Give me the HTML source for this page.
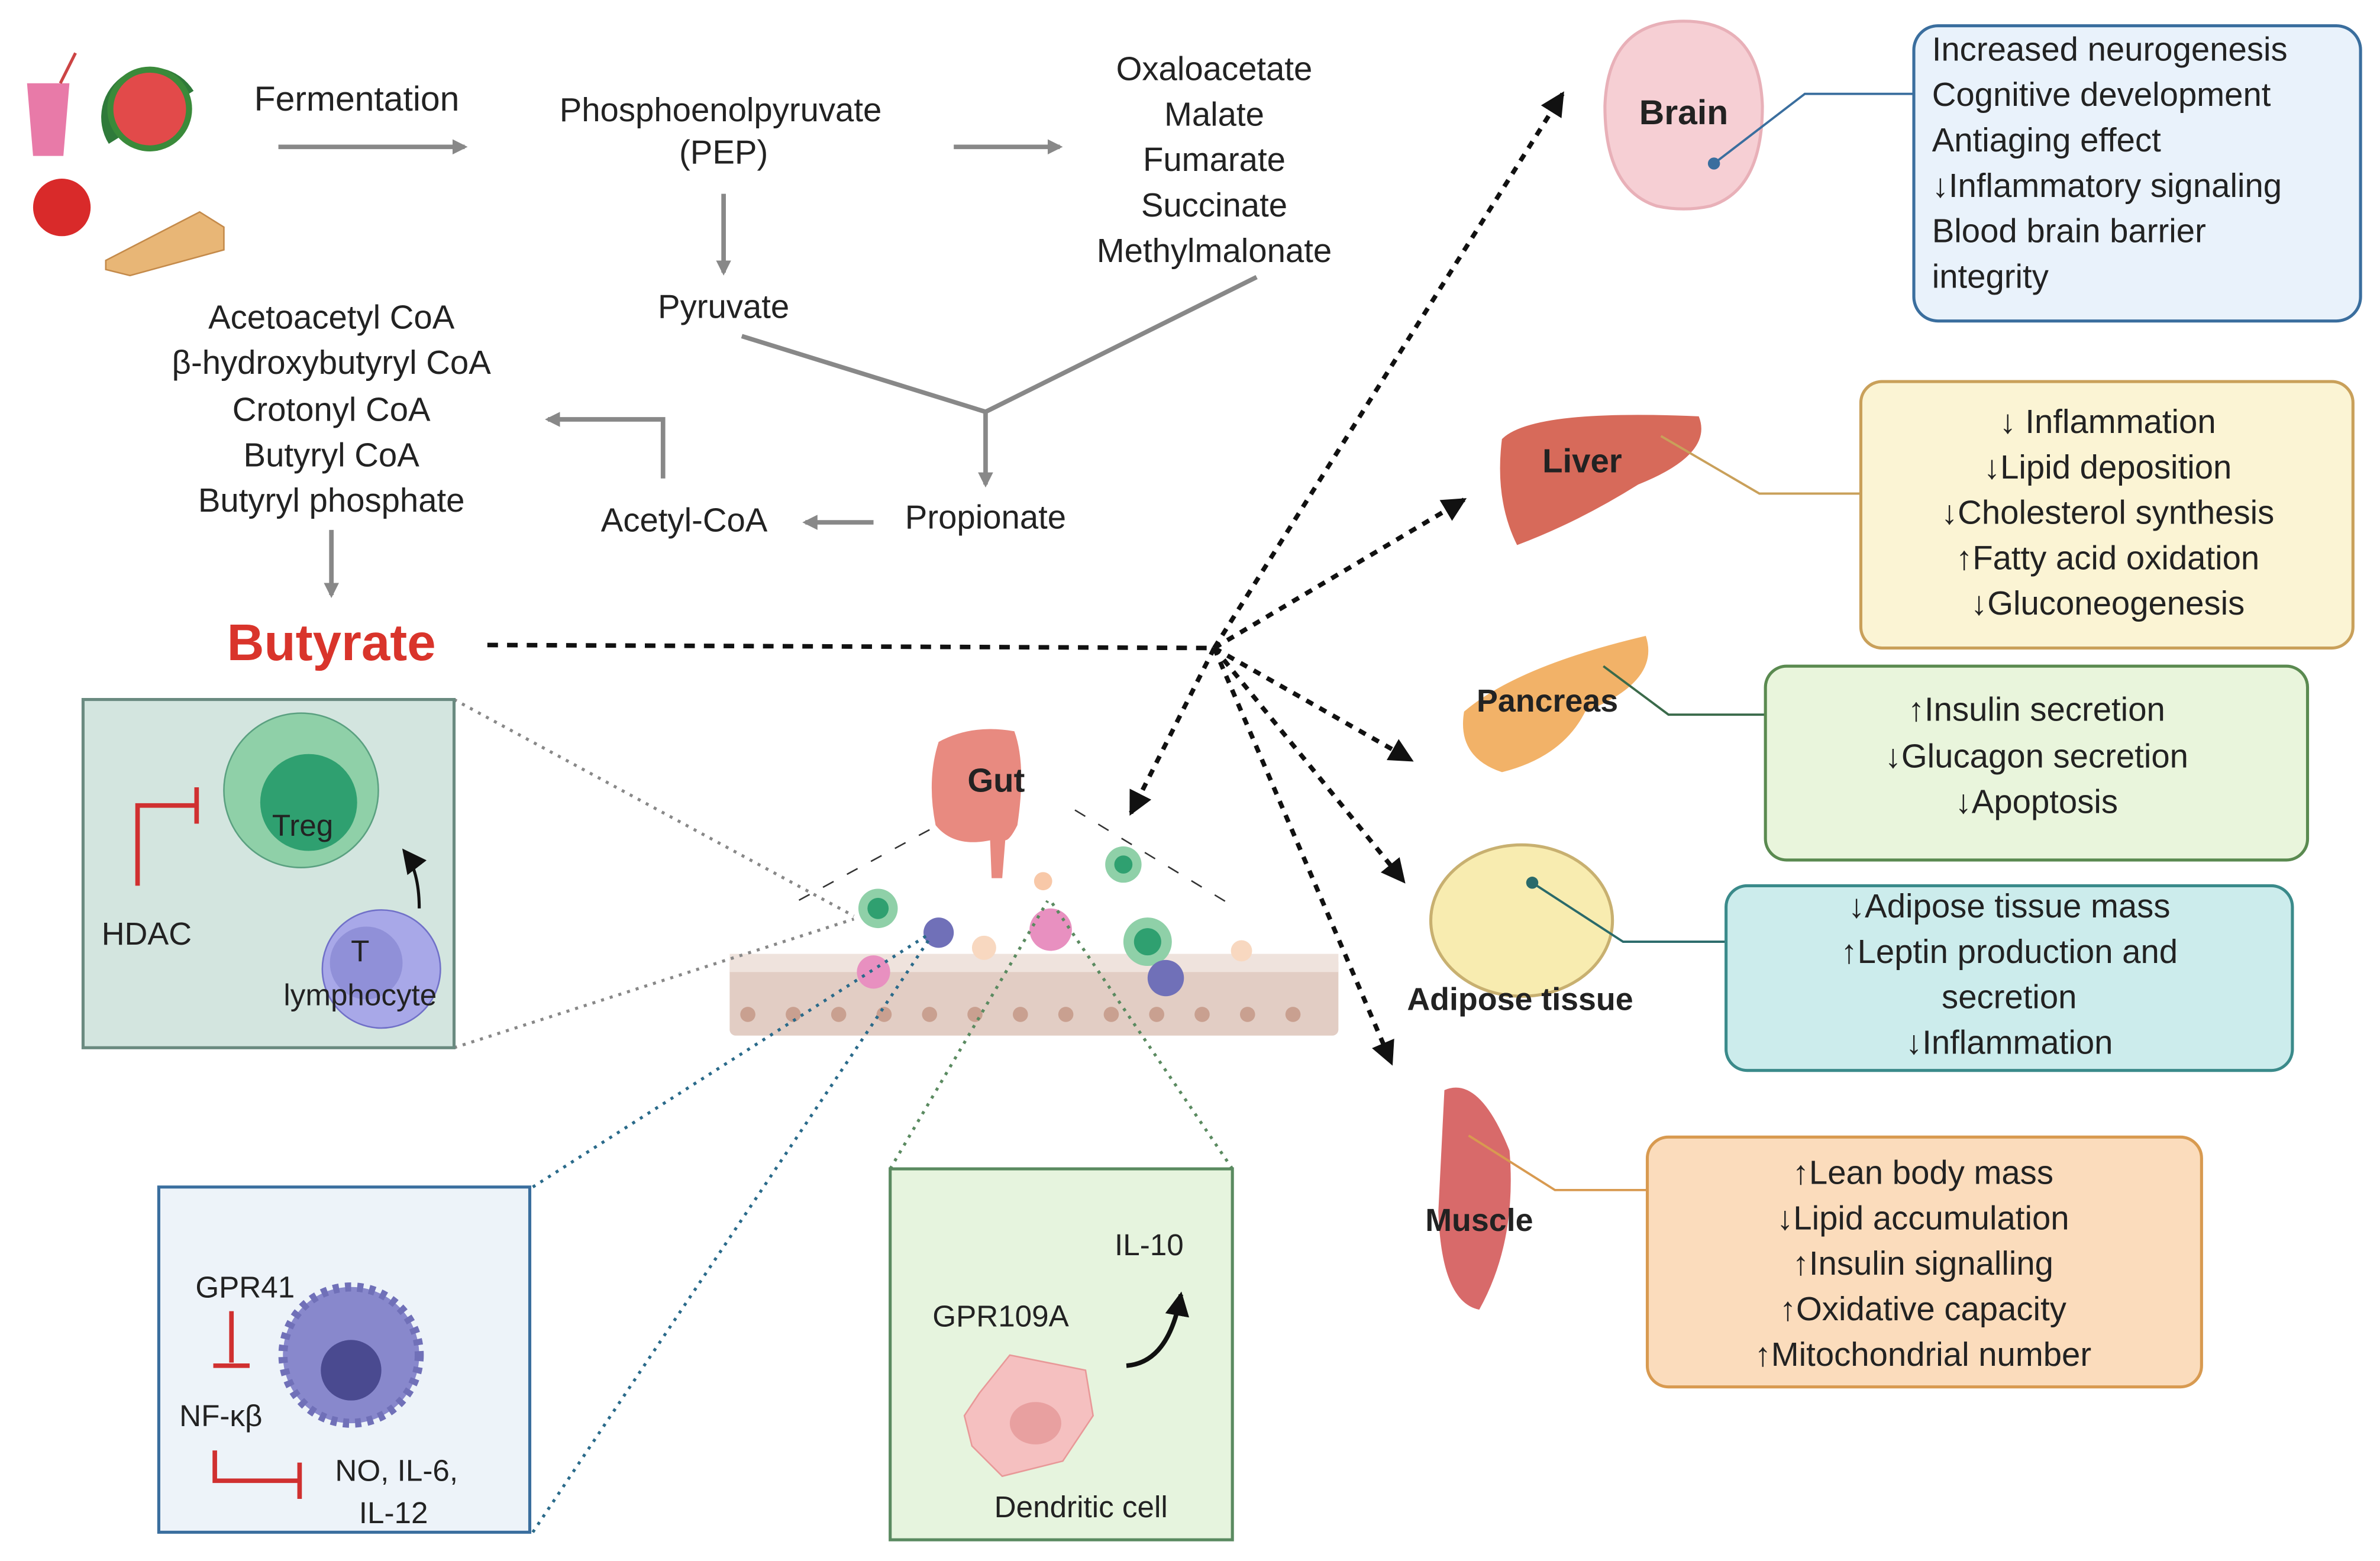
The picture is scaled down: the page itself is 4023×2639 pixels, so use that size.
<!DOCTYPE html>
<html><head><meta charset="utf-8"><style>
html,body{margin:0;padding:0;background:#fff;width:4023px;height:2639px;overflow:hidden}
svg{display:block}
text{font-family:"Liberation Sans",sans-serif;fill:#222}
</style></head><body>
<svg width="4023" height="2639" viewBox="0 0 1568 1031" xmlns="http://www.w3.org/2000/svg">
<defs>
<marker id="ag" markerWidth="10" markerHeight="10" refX="8" refY="5" orient="auto" markerUnits="userSpaceOnUse"><path d="M0,0 L10,5 L0,10 z" fill="#888"/></marker>
<marker id="ab" markerWidth="16" markerHeight="16" refX="14" refY="8" orient="auto" markerUnits="userSpaceOnUse"><path d="M0,0 L16,8 L0,16 z" fill="#111"/></marker>
</defs>
<!-- food icons -->
<path d="M16 55 L44 55 L40 103 L20 103 z" fill="#e87aa8"/><line x1="38" y1="55" x2="48" y2="35" stroke="#c44" stroke-width="2"/>
<path d="M70 95 A30 30 0 0 1 126 60 z" fill="#2f7a3a"/><circle cx="97" cy="72" r="26" fill="#e24a4a"/><circle cx="97" cy="72" r="26" fill="none" stroke="#3a8a3a" stroke-width="4"/>
<circle cx="39" cy="137" r="19" fill="#d92a2a"/>
<path d="M68 172 L130 140 L146 150 L146 165 L84 182 L68 178 z" fill="#e8b676" stroke="#c48a4a"/>
<text x="166" y="73" font-size="23">Fermentation</text>
<line x1="182" y1="97" x2="305" y2="97" stroke="#888" stroke-width="3" marker-end="url(#ag)"/>
<g font-size="22" text-anchor="middle">
<text x="474" y="80">Phosphoenolpyruvate</text><text x="476" y="108">(PEP)</text>
<text x="800" y="53">Oxaloacetate</text><text x="800" y="83">Malate</text><text x="800" y="113">Fumarate</text><text x="800" y="143">Succinate</text><text x="800" y="173">Methylmalonate</text>
<text x="476" y="210">Pyruvate</text>
<text x="217" y="217">Acetoacetyl CoA</text><text x="217" y="247">β-hydroxybutyryl CoA</text><text x="217" y="278">Crotonyl CoA</text><text x="217" y="308">Butyryl CoA</text><text x="217" y="338">Butyryl phosphate</text>
<text x="450" y="351">Acetyl-CoA</text><text x="649" y="349">Propionate</text>
</g>
<g stroke="#888" stroke-width="3" fill="none">
<line x1="628" y1="97" x2="698" y2="97" marker-end="url(#ag)"/>
<line x1="476" y1="128" x2="476" y2="180" marker-end="url(#ag)"/>
<polyline points="488,222 649,272 828,183"/>
<line x1="649" y1="272" x2="649" y2="320" marker-end="url(#ag)"/>
<line x1="575" y1="345" x2="530" y2="345" marker-end="url(#ag)"/>
<polyline points="436,316 436,277 360,277" marker-end="url(#ag)"/>
<line x1="217" y1="350" x2="217" y2="393" marker-end="url(#ag)"/>
</g>
<text x="217" y="436" font-size="34" font-weight="bold" text-anchor="middle" style="fill:#d9342b">Butyrate</text>
<line x1="320" y1="426" x2="800" y2="428" stroke="#111" stroke-width="3" stroke-dasharray="7,6"/>
<g stroke="#111" stroke-width="3" stroke-dasharray="5,5" fill="none">
<line x1="800" y1="428" x2="1030" y2="62" marker-end="url(#ab)"/>
<line x1="800" y1="428" x2="965" y2="330" marker-end="url(#ab)"/>
<line x1="800" y1="428" x2="930" y2="502" marker-end="url(#ab)"/>
<line x1="800" y1="428" x2="925" y2="582" marker-end="url(#ab)"/>
<line x1="800" y1="428" x2="917" y2="702" marker-end="url(#ab)"/>
<line x1="800" y1="428" x2="745" y2="537" marker-end="url(#ab)"/>
</g>
<!-- gut scene -->
<rect x="480" y="632" width="402" height="52" rx="4" fill="#e2cdc4"/>
<rect x="480" y="630" width="402" height="12" fill="#efe3dd"/>
<g fill="#c9a090"><circle cx="492" cy="670" r="5"/><circle cx="522" cy="670" r="5"/><circle cx="552" cy="670" r="5"/><circle cx="582" cy="670" r="5"/><circle cx="612" cy="670" r="5"/><circle cx="642" cy="670" r="5"/><circle cx="672" cy="670" r="5"/><circle cx="702" cy="670" r="5"/><circle cx="732" cy="670" r="5"/><circle cx="762" cy="670" r="5"/><circle cx="792" cy="670" r="5"/><circle cx="822" cy="670" r="5"/><circle cx="852" cy="670" r="5"/></g>
<path d="M618 490 Q640 478 668 483 Q676 505 670 545 Q665 555 662 555 L660 580 L653 580 L652 555 Q628 560 616 545 Q610 515 618 490z" fill="#e88a80"/>
<text x="656" y="523" font-size="22" font-weight="bold" text-anchor="middle">Gut</text>
<g stroke="#333" stroke-width="1" stroke-dasharray="8,10"><line x1="612" y1="548" x2="525" y2="595"/><line x1="708" y1="535" x2="815" y2="600"/></g>
<circle cx="578" cy="600" r="13" fill="#8fd0a8"/><circle cx="578" cy="600" r="7" fill="#2fa070"/>
<circle cx="740" cy="571" r="12" fill="#8fd0a8"/><circle cx="740" cy="571" r="6" fill="#2fa070"/>
<circle cx="756" cy="622" r="16" fill="#8fd0a8"/><circle cx="756" cy="622" r="9" fill="#2fa070"/>
<circle cx="618" cy="616" r="10" fill="#7070b8"/><circle cx="768" cy="646" r="12" fill="#7070b8"/>
<circle cx="692" cy="614" r="14" fill="#e890c0"/><circle cx="575" cy="642" r="11" fill="#e890c0"/>
<circle cx="687" cy="582" r="6" fill="#f8c8a8"/><circle cx="648" cy="626" r="8" fill="#f8d8c0"/><circle cx="818" cy="628" r="7" fill="#f8d8c0"/>
<g stroke-width="2" stroke-dasharray="2,4" fill="none">
<line x1="298" y1="462" x2="562" y2="605" stroke="#888"/><line x1="298" y1="692" x2="562" y2="607" stroke="#888"/>
<line x1="350" y1="784" x2="610" y2="618" stroke="#2a6a8a"/><line x1="350" y1="1012" x2="612" y2="620" stroke="#2a6a8a"/>
<line x1="586" y1="772" x2="690" y2="595" stroke="#5a8a60"/><line x1="812" y1="772" x2="692" y2="595" stroke="#5a8a60"/>
</g>
<!-- Treg box -->
<rect x="53" y="462" width="245" height="230" fill="#d3e5df" stroke="#6a8a80" stroke-width="2"/>
<circle cx="197" cy="522" r="51" fill="#8fd0a8" stroke="#5aa080"/><circle cx="202" cy="530" r="32" fill="#2fa070"/>
<text x="198" y="552" font-size="20" text-anchor="middle">Treg</text>
<circle cx="250" cy="640" r="39" fill="#a8a8e8" stroke="#7070c8"/><circle cx="240" cy="636" r="24" fill="#9090d8"/>
<text x="236" y="635" font-size="20" text-anchor="middle">T</text><text x="236" y="664" font-size="20" text-anchor="middle">lymphocyte</text>
<path d="M275 600 Q275 575 265 562" stroke="#111" stroke-width="2" fill="none" marker-end="url(#ab)"/>
<polyline points="89,585 89,532 128,532" stroke="#d03030" stroke-width="3" fill="none"/><line x1="128" y1="520" x2="128" y2="544" stroke="#d03030" stroke-width="3"/>
<text x="95" y="624" font-size="21" text-anchor="middle">HDAC</text>
<!-- GPR41 box -->
<rect x="103" y="784" width="245" height="228" fill="#edf3f9" stroke="#3a6e9e" stroke-width="2"/>
<circle cx="230" cy="895" r="45" fill="#8888cc" stroke="#7070b8" stroke-width="6" stroke-dasharray="4,4"/><circle cx="230" cy="905" r="20" fill="#4a4a90"/>
<text x="160" y="857" font-size="20" text-anchor="middle">GPR41</text>
<line x1="151" y1="866" x2="151" y2="900" stroke="#d03030" stroke-width="3"/><line x1="139" y1="902" x2="163" y2="902" stroke="#d03030" stroke-width="3"/>
<text x="144" y="942" font-size="20" text-anchor="middle">NF-κβ</text>
<polyline points="140,958 140,978 195,978" stroke="#d03030" stroke-width="3" fill="none"/><line x1="196" y1="966" x2="196" y2="990" stroke="#d03030" stroke-width="3"/>
<text x="260" y="978" font-size="20" text-anchor="middle">NO, IL-6,</text><text x="258" y="1006" font-size="20" text-anchor="middle">IL-12</text>
<!-- Dendritic box -->
<rect x="586" y="772" width="226" height="245" fill="#e6f4de" stroke="#5a8a60" stroke-width="2"/>
<text x="757" y="829" font-size="20" text-anchor="middle">IL-10</text><text x="659" y="876" font-size="20" text-anchor="middle">GPR109A</text>
<path d="M742 902 Q770 900 778 855" stroke="#111" stroke-width="3" fill="none" marker-end="url(#ab)"/>
<path d="M645 920 L665 895 L690 900 L715 905 L720 935 L700 965 L660 975 L640 955 L635 935 z" fill="#f5c0c0" stroke="#e89898"/><ellipse cx="682" cy="940" rx="17" ry="14" fill="#e8a0a0"/>
<text x="712" y="1002" font-size="20" text-anchor="middle">Dendritic cell</text>
<!-- organs -->
<path d="M1110 14 Q1160 14 1162 70 Q1162 125 1128 136 Q1110 140 1092 136 Q1058 125 1058 70 Q1060 14 1110 14z" fill="#f6cfd4" stroke="#e8b0b8" stroke-width="2"/>
<text x="1110" y="82" font-size="23" font-weight="bold" text-anchor="middle">Brain</text>
<polyline points="1130,108 1190,62 1262,62" stroke="#3a6e9e" stroke-width="1.5" fill="none"/><circle cx="1130" cy="108" r="4" fill="#3a6e9e"/>
<path d="M990 290 Q1010 270 1120 275 Q1130 300 1080 320 Q1040 345 1000 360 Q985 330 990 290z" fill="#d76a5a"/>
<text x="1043" y="312" font-size="22" font-weight="bold" text-anchor="middle">Liver</text>
<polyline points="1095,288 1160,326 1227,326" stroke="#c9a05a" stroke-width="1.5" fill="none"/>
<path d="M965 470 Q1000 440 1085 420 Q1095 450 1045 470 Q1030 500 990 510 Q960 500 965 470z" fill="#f2b268"/>
<text x="1020" y="470" font-size="21" font-weight="bold" text-anchor="middle">Pancreas</text>
<polyline points="1057,440 1100,472 1164,472" stroke="#3a6a4a" stroke-width="1.5" fill="none"/>
<ellipse cx="1003" cy="608" rx="60" ry="50" fill="#f8ecb0" stroke="#c8b070" stroke-width="2"/>
<text x="1002" y="667" font-size="21" font-weight="bold" text-anchor="middle">Adipose tissue</text>
<polyline points="1010,583 1070,622 1138,622" stroke="#2a6a6a" stroke-width="1.5" fill="none"/><circle cx="1010" cy="583" r="4" fill="#2a6a6a"/>
<path d="M952 720 Q975 710 995 760 Q1000 820 975 865 Q950 860 948 800 z" fill="#d86a6a"/>
<text x="975" y="813" font-size="21" font-weight="bold" text-anchor="middle">Muscle</text>
<polyline points="968,750 1025,786 1086,786" stroke="#d89a50" stroke-width="1.5" fill="none"/>
<!-- right boxes -->
<rect x="1262" y="17" width="295" height="195" rx="16" fill="#e9f2fb" stroke="#3a6e9e" stroke-width="2"/>
<g font-size="22"><text x="1274" y="40">Increased neurogenesis</text><text x="1274" y="70">Cognitive development</text><text x="1274" y="100">Antiaging effect</text><text x="1274" y="130">↓Inflammatory signaling</text><text x="1274" y="160">Blood brain barrier</text><text x="1274" y="190">integrity</text></g>
<rect x="1227" y="252" width="325" height="176" rx="14" fill="#fbf4d4" stroke="#c9a05a" stroke-width="2"/>
<g font-size="22" text-anchor="middle"><text x="1390" y="286">↓ Inflammation</text><text x="1390" y="316">↓Lipid deposition</text><text x="1390" y="346">↓Cholesterol synthesis</text><text x="1390" y="376">↑Fatty acid oxidation</text><text x="1390" y="406">↓Gluconeogenesis</text></g>
<rect x="1164" y="440" width="358" height="128" rx="14" fill="#e9f5dc" stroke="#5a8a50" stroke-width="2"/>
<g font-size="22" text-anchor="middle"><text x="1343" y="476">↑Insulin secretion</text><text x="1343" y="507">↓Glucagon secretion</text><text x="1343" y="537">↓Apoptosis</text></g>
<rect x="1138" y="585" width="374" height="122" rx="14" fill="#ccecec" stroke="#3a8a8a" stroke-width="2"/>
<g font-size="22" text-anchor="middle"><text x="1325" y="606">↓Adipose tissue mass</text><text x="1325" y="636">↑Leptin production and</text><text x="1325" y="666">secretion</text><text x="1325" y="696">↓Inflammation</text></g>
<rect x="1086" y="751" width="366" height="165" rx="14" fill="#fbdcbc" stroke="#d89a50" stroke-width="2"/>
<g font-size="22" text-anchor="middle"><text x="1268" y="782">↑Lean body mass</text><text x="1268" y="812">↓Lipid accumulation</text><text x="1268" y="842">↑Insulin signalling</text><text x="1268" y="872">↑Oxidative capacity</text><text x="1268" y="902">↑Mitochondrial number</text></g>
</svg>
</body></html>
